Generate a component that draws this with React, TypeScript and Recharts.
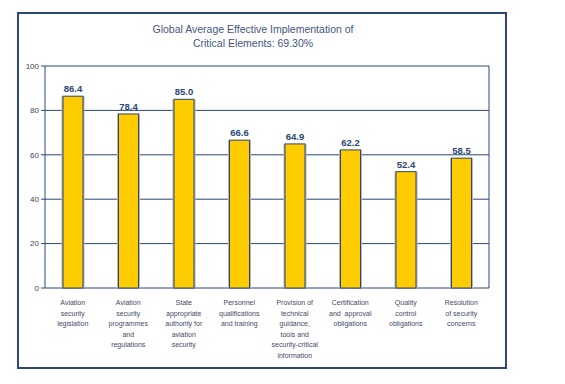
import React from 'react'
import {
  BarChart,
  Bar,
  XAxis,
  YAxis,
  CartesianGrid,
  LabelList,
  ReferenceLine,
} from 'recharts'

// Categories (line-broken as in the source), values, y ticks
const categories = [
  ['Aviation', 'security', 'legislation'],
  ['Aviation', 'security', 'programmes', 'and', 'regulations'],
  ['State', 'appropriate', 'authority for', 'aviation', 'security'],
  ['Personnel', 'qualifications', 'and training'],
  ['Provision of', 'technical', 'guidance,', 'tools and', 'security-critical', 'information'],
  ['Certification', 'and  approval', 'obligations'],
  ['Quality', 'control', 'obligations'],
  ['Resolution', 'of security', 'concerns'],
]
const values = [86.4, 78.4, 85.0, 66.6, 64.9, 62.2, 52.4, 58.5]
const yTicks = [0, 20, 40, 60, 80, 100]
const titleLines = [
  'Global Average Effective Implementation of',
  'Critical Elements: 69.30%',
]

const data = categories.map((lines, i) => ({
  idx: i,
  name: lines.join(' '),
  value: values[i],
}))

const NAVY = '#2b4677'
const FONT = '"Liberation Sans", Arial, sans-serif'

const CategoryTick = (props: any) => {
  const { x, y, payload } = props
  const lines = categories[payload.index] ?? []
  return (
    <text
      x={x}
      y={y + 9}
      textAnchor="middle"
      fontSize={7}
      fontFamily={FONT}
      fill="#3f4a66"
    >
      {lines.map((l: string, i: number) => (
        <tspan key={i} x={x} dy={i === 0 ? 0 : 10.5} style={{ whiteSpace: 'pre' }}>
          {l}
        </tspan>
      ))}
    </text>
  )
}

const ShadowBar = (props: any) => {
  const { x, y, width, height } = props
  if (!height || height <= 0) return null
  return (
    <g>
      <rect x={x - 1.5} y={y} width={width + 3} height={height} fill="#b5b5b5" />
      <rect x={x} y={y} width={width} height={height} fill="#ffcc00" stroke={NAVY} strokeWidth={1} />
    </g>
  )
}

export default function App() {
  return (
    <div
      style={{
        position: 'absolute',
        left: 0,
        top: 0,
        width: 565,
        height: 384,
        background: '#fff',
        fontFamily: FONT,
      }}
    >
      {/* outer frame */}
      <div
        style={{
          position: 'absolute',
          left: 17,
          top: 12,
          width: 486,
          height: 353,
          border: `2px solid ${NAVY}`,
        }}
      />
      {/* title */}
      <div
        style={{
          position: 'absolute',
          left: 17,
          top: 22,
          width: 472,
          textAlign: 'center',
          fontSize: 10.5,
          lineHeight: '14px',
          color: '#44557f',
        }}
      >
        {titleLines.map((t, i) => (
          <div key={i}>{t}</div>
        ))}
      </div>
      <div style={{ position: 'absolute', left: 0, top: 0 }}>
        <BarChart
          width={565}
          height={384}
          data={data}
          margin={{ top: 66, right: 76, bottom: 26, left: 15 }}
          barCategoryGap={0}
        >
          <CartesianGrid vertical={false} stroke={NAVY} strokeWidth={1} />
          <XAxis
            xAxisId="ticks"
            type="number"
            dataKey="idx"
            domain={[0, 8]}
            ticks={[0, 1, 2, 3, 4, 5, 6, 7, 8]}
            tick={false}
            tickSize={4}
            tickLine={{ stroke: NAVY }}
            axisLine={{ stroke: NAVY }}
            height={0}
            allowDataOverflow
          />
          <XAxis
            xAxisId="cat"
            dataKey="name"
            interval={0}
            tick={<CategoryTick />}
            tickLine={false}
            axisLine={false}
            height={70}
          />
          <YAxis
            domain={[0, 100]}
            ticks={yTicks}
            width={30}
            tick={{ fontSize: 8, fill: '#444', fontFamily: FONT }}
            tickLine={{ stroke: NAVY }}
            tickSize={4}
            axisLine={{ stroke: NAVY }}
          />
          <ReferenceLine xAxisId="ticks" x={8} stroke={NAVY} strokeWidth={1} ifOverflow="visible" />
          <Bar
            dataKey="value"
            xAxisId="cat"
            barSize={20}
            shape={<ShadowBar />}
            isAnimationActive={false}
          >
            <LabelList
              dataKey="value"
              position="top"
              offset={4}
              formatter={(v: any) => Number(v).toFixed(1)}
              style={{ fontSize: 9.5, fontWeight: 'bold', fill: NAVY, fontFamily: FONT }}
            />
          </Bar>
        </BarChart>
      </div>
    </div>
  )
}
